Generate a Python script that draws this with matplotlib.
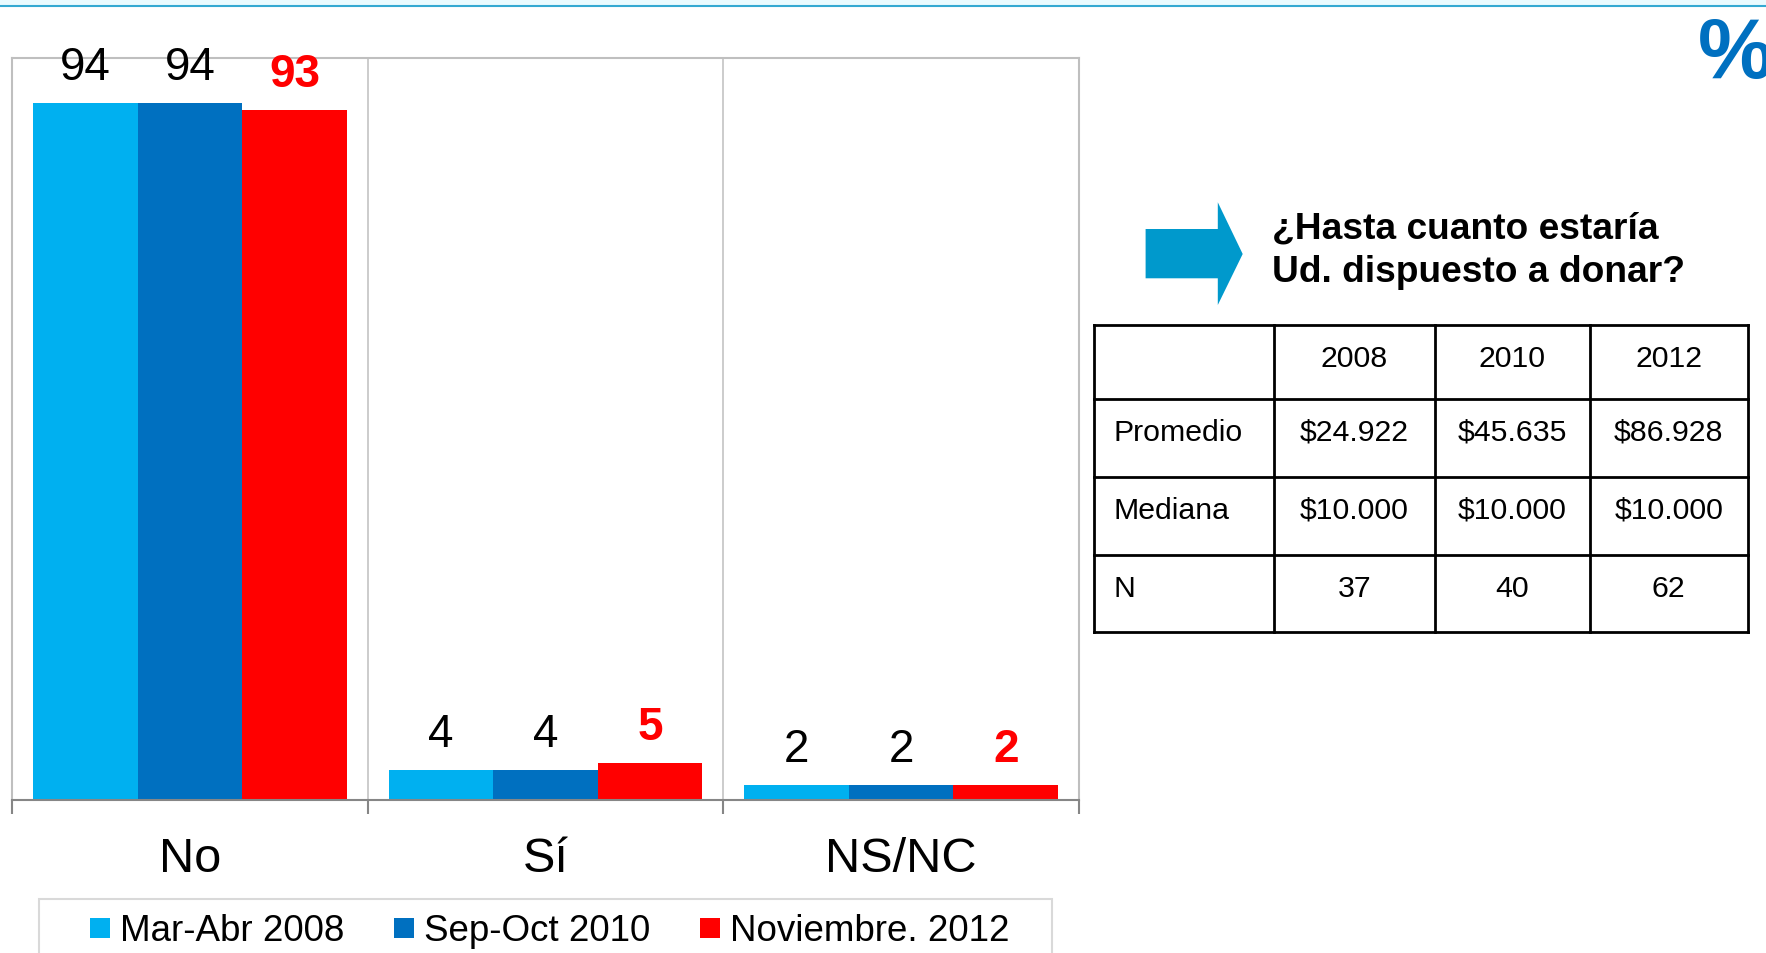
import matplotlib
matplotlib.use('Agg')
import matplotlib.pyplot as plt
from matplotlib.patches import Rectangle, Polygon
from matplotlib.lines import Line2D
import numpy as np

plt.rcParams['font.family'] = ['Liberation Sans', 'DejaVu Sans']

# data
categories = ['No', 'Sí', 'NS/NC']
series_names = ['Mar-Abr 2008', 'Sep-Oct 2010', 'Noviembre. 2012']
values_2008 = [94, 4, 2]
values_2010 = [94, 4, 2]
values_2012 = [93, 5, 2]
colors = ['#00B0F0', '#0070C0', '#FF0000']

question = ['¿Hasta cuanto estaría', 'Ud. dispuesto a donar?']
table_header = ['', '2008', '2010', '2012']
table_rows = ['Promedio', 'Mediana', 'N']
promedio = ['$24.922', '$45.635', '$86.928']
mediana = ['$10.000', '$10.000', '$10.000']
n_casos = ['37', '40', '62']

W, H = 1766, 954
fig = plt.figure(figsize=(W / 100, H / 100), dpi=100)

# top band + line
fig.add_artist(Rectangle((0, 1 - 6.5 / H), 1, 6.5 / H, transform=fig.transFigure,
                         facecolor='#EAFBFF', edgecolor='none'))
fig.add_artist(Line2D([0, 1], [1 - 7 / H, 1 - 7 / H], transform=fig.transFigure,
                      color='#35A9D2', lw=1.5))

# bar chart
ax = fig.add_axes([12 / W, (H - 800.7) / H, (1079 - 12) / W, (800.7 - 59) / H])
x = np.arange(len(categories))
bw = 0.294
all_vals = [values_2008, values_2010, values_2012]
for i, (vals, c) in enumerate(zip(all_vals, colors)):
    xs = x + (i - 1) * bw
    ax.bar(xs, vals, width=bw, color=c, linewidth=0, zorder=2)
    for xi, v in zip(xs, vals):
        if i == 2:
            ax.annotate(str(v), (xi, v), xytext=(0, 17), textcoords='offset points',
                        ha='center', va='baseline', fontsize=33, color='#FF0000',
                        fontweight='bold')
        else:
            ax.annotate(str(v), (xi, v), xytext=(0, 17), textcoords='offset points',
                        ha='center', va='baseline', fontsize=33, color='black')

ax.set_xlim(-0.5, len(categories) - 0.5)
ax.set_ylim(0, 100)
ax.set_yticks([])
ax.set_xticks(x)
ax.set_xticklabels(categories, fontsize=35)
ax.tick_params(axis='x', which='major', length=0, pad=26)
ax.set_xticks(np.arange(len(categories) + 1) - 0.5, minor=True)
ax.tick_params(axis='x', which='minor', length=10, width=1.5, color='#868686',
               direction='out')
for xv in np.arange(1, len(categories)) - 0.5:
    ax.axvline(xv, color='#C8C8C8', lw=1.3, zorder=1)
for s in ['left', 'top', 'right']:
    ax.spines[s].set_color('#BFBFBF')
    ax.spines[s].set_linewidth(1.5)
ax.spines['bottom'].set_color('#868686')
ax.spines['bottom'].set_linewidth(1.5)
ax.spines['bottom'].set_zorder(3)

# legend
fig.add_artist(Rectangle((38.6 / W, -20 / H), (1052 - 38.6) / W, (H - 900 + 20) / H,
                         transform=fig.transFigure, fill=False,
                         edgecolor='#D9D9D9', lw=1.5))
handles = [Line2D([], [], ls='none', marker='s', markersize=13.7, color=c,
                  markeredgewidth=0) for c in colors]
fig.legend(handles, series_names, loc='center left', ncol=3,
           bbox_to_anchor=(88.5 / W, 1 - 932 / H), frameon=False, fontsize=26.5,
           handlelength=0.6, handletextpad=0.25, columnspacing=1.32,
           borderpad=0, borderaxespad=0)

# overlay in pixel coords for arrow / question / table
ov = fig.add_axes([0, 0, 1, 1])
ov.set_xlim(0, W)
ov.set_ylim(H, 0)
ov.axis('off')
ov.patch.set_alpha(0)

ov.add_patch(Polygon([(1145.6, 230), (1217.8, 230), (1217.8, 203.3), (1242.7, 255),
                      (1217.8, 306), (1217.8, 279.3), (1145.6, 279.3)],
                     closed=True, facecolor='#0099CC', edgecolor='none'))
ov.text(1272.5, 238.3, question[0], fontsize=26.7, fontweight='bold', va='baseline')
ov.text(1272.5, 281.7, question[1], fontsize=26.7, fontweight='bold', va='baseline')

col_edges = [1093.6, 1273.8, 1435.2, 1589.6, 1748]
row_edges = [326, 400, 477.7, 555.7, 633.3]
for xe in col_edges:
    ov.plot([xe, xe], [row_edges[0], row_edges[-1]], color='black', lw=2,
            solid_capstyle='projecting')
for ye in row_edges:
    ov.plot([col_edges[0], col_edges[-1]], [ye, ye], color='black', lw=2,
            solid_capstyle='projecting')

body = [promedio, mediana, n_casos]
for j, h in enumerate(table_header[1:]):
    cx = (col_edges[j + 1] + col_edges[j + 2]) / 2
    ov.text(cx, row_edges[0] + 41, h, fontsize=21.8, ha='center', va='baseline')
for r, (lab, vals) in enumerate(zip(table_rows, body)):
    y = row_edges[r + 1] + 41
    ov.text(1114, y, lab, fontsize=21.8, ha='left', va='baseline')
    for j, v in enumerate(vals):
        cx = (col_edges[j + 1] + col_edges[j + 2]) / 2
        ov.text(cx, y, v, fontsize=21.8, ha='center', va='baseline')

# the % sign runs off the right edge in the original too
ov.text(1698, 78.3, '%', fontsize=61, fontweight='bold', color='#0070C0',
        ha='left', va='baseline')

fig.savefig('out.png', dpi=100)
